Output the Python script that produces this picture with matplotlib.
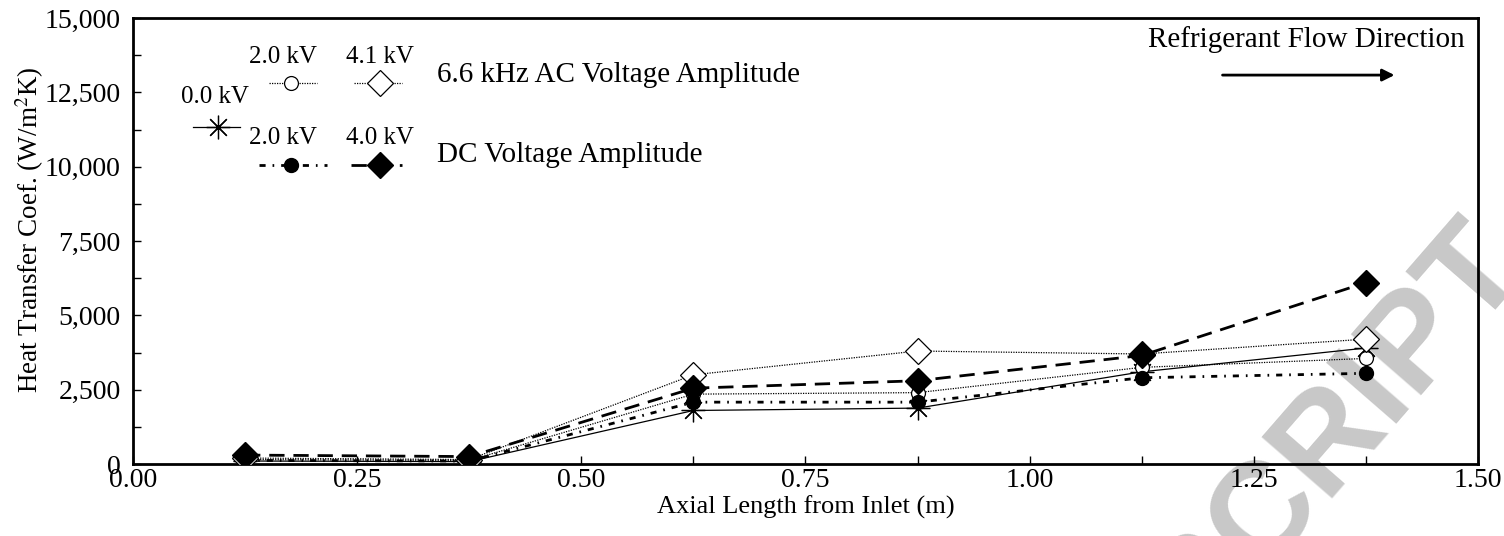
import numpy as np
import matplotlib
matplotlib.use("Agg")
import matplotlib.pyplot as plt
from matplotlib.ticker import MultipleLocator, FuncFormatter

plt.rcParams['font.family'] = ['Liberation Serif', 'DejaVu Serif']
plt.rcParams['mathtext.fontset'] = 'stix'

# Data
x = [0.125, 0.375, 0.625, 0.875, 1.125, 1.375]
h_0kV = [100, 80, 1800, 1880, 3100, 3900]
h_ac_2kV = [150, 120, 2350, 2400, 3250, 3550]
h_ac_4kV = [200, 150, 3000, 3800, 3700, 4200]
h_dc_2kV = [120, 100, 2080, 2080, 2900, 3050]
h_dc_4kV = [300, 250, 2550, 2800, 3650, 6100]

xticks = [0.00, 0.25, 0.50, 0.75, 1.00, 1.25, 1.50]
yticks = [0, 2500, 5000, 7500, 10000, 12500, 15000]

W, H = 1504, 536
fig = plt.figure(figsize=(W / 100, H / 100), dpi=100)
ax = fig.add_axes([133 / W, 1 - 464 / H, (1478 - 133) / W, (464 - 18) / H])
ax.patch.set_alpha(0)

# watermark behind
fig.text(1456 / W, 1 - 206 / H, "ACCEPTED MANUSCRIPT", rotation=49, rotation_mode='anchor',
         ha='right', va='top', fontsize=98, fontweight='bold', color='#c8c8c8',
         family='Liberation Sans', zorder=-10)

ast = (8, 2, 0)
styles = dict(
    zero=dict(color='black', lw=0.9, ls='-', marker=ast, ms=17, mew=0.9),
    ac2=dict(color='black', lw=0.9, ls=(0, (1, 1)), marker='o', ms=10, mfc='white', mec='black', mew=0.9),
    ac4=dict(color='black', lw=0.9, ls=(0, (1, 1)), marker='D', ms=13.5, mfc='white', mec='black', mew=0.9),
    dc2=dict(color='black', lw=2.0, ls=(0, (2.2, 2.5, 0.6, 2.5)), marker='o', ms=10, mfc='black', mec='black'),
    dc4=dict(color='black', lw=2.0, ls=(0, (5.5, 3.2)), marker='D', ms=13.5, mfc='black', mec='black'),
)

ax.plot(x, h_0kV, **styles['zero'], zorder=3)
ax.plot(x, h_ac_2kV, **styles['ac2'], zorder=3)
ax.plot(x, h_dc_2kV, **styles['dc2'], zorder=3)
ax.plot(x, h_ac_4kV, **styles['ac4'], zorder=3)
ax.plot(x, h_dc_4kV, **styles['dc4'], zorder=4)

ax.set_xlim(0, 1.5)
ax.set_ylim(0, 15000)
ax.set_xticks(xticks)
ax.set_yticks(yticks)
ax.xaxis.set_minor_locator(MultipleLocator(0.125))
ax.yaxis.set_minor_locator(MultipleLocator(1250))
ax.xaxis.set_major_formatter(FuncFormatter(lambda v, p: f"{v:.2f}"))
ax.yaxis.set_major_formatter(FuncFormatter(lambda v, p: f"{int(v):,}"))
ax.tick_params(which='both', direction='in', length=6, width=1.0, labelsize=20)
ax.tick_params(axis='x', pad=3)
ax.tick_params(axis='y', pad=9)
for s in ax.spines.values():
    s.set_linewidth(2.0)

ax.set_xlabel("Axial Length from Inlet (m)", fontsize=19, labelpad=2)
ax.set_ylabel(r"Heat Transfer Coef. (W/m$^{2}$K)", fontsize=19.5)
ax.yaxis.set_label_coords(-0.065, 0.525)

# custom legend (axes fraction)
T = ax.transAxes
def key(x0, x1, xm, y, st):
    s = dict(st)
    ax.plot([x0, x1], [y, y], transform=T, clip_on=False, marker=None,
            color=s['color'], lw=s['lw'], ls=s['ls'])
    s.pop('ls'); s.pop('lw')
    ax.plot([xm], [y], transform=T, clip_on=False, ls='none', **s)

fs = 18
key(0.101, 0.137, 0.1175, 0.854, styles['ac2'])
key(0.164, 0.200, 0.1836, 0.854, styles['ac4'])
key(0.0446, 0.0796, 0.0632, 0.7556, styles['zero'])
key(0.094, 0.144, 0.1175, 0.670, styles['dc2'])
key(0.162, 0.200, 0.1836, 0.670, styles['dc4'])
ax.text(0.1115, 0.912, "2.0 kV", transform=T, ha='center', va='center', fontsize=fs)
ax.text(0.1836, 0.912, "4.1 kV", transform=T, ha='center', va='center', fontsize=fs)
ax.text(0.061, 0.823, "0.0 kV", transform=T, ha='center', va='center', fontsize=fs)
ax.text(0.1115, 0.731, "2.0 kV", transform=T, ha='center', va='center', fontsize=fs)
ax.text(0.1836, 0.731, "4.0 kV", transform=T, ha='center', va='center', fontsize=fs)
ax.text(0.226, 0.872, "6.6 kHz AC Voltage Amplitude", transform=T, ha='left', va='center', fontsize=21)
ax.text(0.226, 0.693, "DC Voltage Amplitude", transform=T, ha='left', va='center', fontsize=21)

ax.text(0.9903, 0.9507, "Refrigerant Flow Direction", transform=T, ha='right', va='center', fontsize=21)
ax.annotate("", xy=(0.940, 0.872), xytext=(0.808, 0.872), xycoords=T, textcoords=T,
            arrowprops=dict(arrowstyle='-|>', color='black', lw=2.0, mutation_scale=18))

fig.savefig("out.png", dpi=100)
